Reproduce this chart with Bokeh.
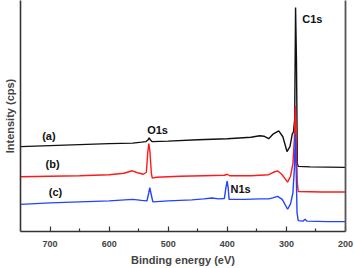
from bokeh.plotting import figure
from bokeh.models import Range1d, LinearAxis, FixedTicker
from bokeh.core.properties import value
from bokeh.embed import file_html
from bokeh.resources import INLINE

# ---- data (binding energy eV, intensity arb. units) ----
energy_a = [750, 700, 650, 600, 560, 545, 538, 534, 532.2, 530.5, 527, 500, 450, 400, 360, 345, 338,
            330, 322, 313, 306, 299, 294, 290, 288, 286, 284.5, 283, 281.5, 280, 260, 200]
inten_a = [85, 86, 87, 88, 88.5, 89.5, 90, 92, 94, 92, 90, 90.5, 92, 93, 94.5, 96, 95.5,
           93, 98, 101, 95, 80, 85, 98, 100, 113, 226, 173, 68, 65, 64.5, 64]

energy_b = [750, 700, 650, 600, 575, 561, 552, 542, 537, 534.5, 532.8, 531, 528.5, 527, 520, 480, 440,
            405, 400, 396, 360, 330, 322, 315, 308, 298, 293, 289, 286.5, 285, 283.5, 281.5, 280, 240, 200]
inten_b = [54.5, 55, 55.5, 56.5, 58, 60.5, 58.5, 57, 59, 80, 88, 80, 58, 53, 54, 55, 55.5,
           56, 57, 55.5, 55.5, 56.5, 59, 60.5, 57, 49, 55, 68, 93, 126, 93, 48, 39.5, 39, 39]

energy_c = [750, 700, 650, 600, 560, 545, 536, 533, 531.2, 529, 526, 500, 460, 440, 426, 415, 405,
            402.5, 400.3, 398.5, 397, 370, 345, 330, 323, 315, 307, 298, 293, 289, 286.5, 285, 283.5,
            282, 280, 272, 268.5, 265, 230, 200]
inten_c = [26.5, 28, 29, 30, 31.5, 30.5, 30, 38, 43.5, 37, 29, 30, 31, 32, 33, 32, 32.5,
           43, 50, 43, 31.5, 31.5, 32, 32, 33, 34.5, 31.5, 21.5, 27, 38, 63, 98, 63,
           18, 10, 9.5, 11.5, 9.5, 9, 9]

x_ticks = [200, 300, 400, 500, 600, 700]
x_minor = [250, 350, 450, 550, 650]

peak_names = ["C1s", "O1s", "N1s"]
peak_x = [273.3, 535.6, 394.6]
peak_y = [214, 102.3, 42.3]

curve_names = ["(a)", "(b)", "(c)"]
curve_x = [713.3, 707.7, 702.1]
curve_y = [95.3, 67.3, 38.7]

FONT = "Liberation Sans"
AX = "#333333"

p = figure(width=354, height=268, output_backend="svg", toolbar_location=None,
           x_range=Range1d(750, 200), y_range=Range1d(-1, 233),
           min_border_left=20, min_border_right=9, min_border_top=0, min_border_bottom=34,
           x_axis_location=None, y_axis_location=None)
p.outline_line_color = None
p.grid.visible = False
p.background_fill_color = "white"
p.border_fill_color = "white"

# bottom axis
xa = LinearAxis(ticker=FixedTicker(ticks=x_ticks, minor_ticks=x_minor))
xa.axis_label = "Binding energy (eV)"
xa.axis_label_text_font = FONT
xa.axis_label_text_font_style = "bold"
xa.axis_label_text_font_size = "11px"
xa.axis_label_standoff = 4
xa.major_label_text_font = FONT
xa.major_label_text_font_style = "bold"
xa.major_label_text_font_size = "9px"
xa.major_label_standoff = 9
xa.major_tick_in = 5
xa.major_tick_out = 0
xa.minor_tick_in = 3
xa.minor_tick_out = 0
xa.axis_line_width = 1.6
xa.axis_line_color = AX
xa.major_tick_line_color = AX
xa.minor_tick_line_color = AX
xa.major_tick_line_width = 1.2
xa.minor_tick_line_width = 1.2
p.add_layout(xa, "below")

# left axis (label only)
ya = LinearAxis(ticker=FixedTicker(ticks=[]))
ya.axis_label = "Intensity (cps)"
ya.axis_label_text_font = FONT
ya.axis_label_text_font_style = "bold"
ya.axis_label_text_font_size = "11px"
ya.axis_label_standoff = 5
ya.major_label_text_font_size = "0px"
ya.major_label_standoff = 0
ya.major_tick_in = 0
ya.major_tick_out = 0
ya.minor_tick_in = 0
ya.minor_tick_out = 0
ya.axis_line_width = 1.6
ya.axis_line_color = AX
p.add_layout(ya, "left")

# right axis (line only)
ra = LinearAxis(ticker=FixedTicker(ticks=[]))
ra.major_label_text_font_size = "0px"
ra.major_label_standoff = 0
ra.major_tick_in = 0
ra.major_tick_out = 0
ra.minor_tick_in = 0
ra.minor_tick_out = 0
ra.axis_line_width = 1.8
ra.axis_line_color = "#555555"
p.add_layout(ra, "right")

p.line(energy_a, inten_a, line_color="#111111", line_width=1.4)
p.line(energy_b, inten_b, line_color="#ff1a1a", line_width=1.4)
p.line(energy_c, inten_c, line_color="#2244ff", line_width=1.4)

p.text(x=peak_x, y=peak_y, text=peak_names, text_font=value(FONT), text_font_style="bold",
       text_font_size="11px", text_align="left", text_baseline="middle", text_color="#111111")
p.text(x=curve_x, y=curve_y, text=curve_names, text_font=value(FONT), text_font_style="bold",
       text_font_size="11px", text_align="left", text_baseline="middle", text_color="#111111")

open("out.html", "w").write(file_html(p, INLINE))
